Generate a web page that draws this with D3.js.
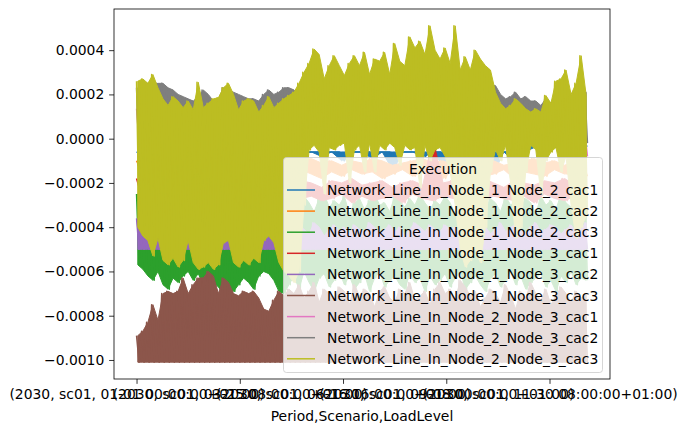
<!DOCTYPE html>
<html>
<head>
<meta charset="utf-8">
<script src="https://cdn.jsdelivr.net/npm/d3@7"></script>
<style>
  body { margin: 0; background: #fff; }
  svg text { font-family: "DejaVu Sans", sans-serif; }
</style>
</head>
<body>
<svg id="chart" width="686" height="432"></svg>
<script>
// values are in units of 1e-4, hourly index 0..8735 (8736 load levels)
const UNIT = 1e-4;
const lastHour = 8735;

const seriesNames = [
  "Network_Line_In_Node_1_Node_2_cac1", "Network_Line_In_Node_1_Node_2_cac2",
  "Network_Line_In_Node_1_Node_2_cac3", "Network_Line_In_Node_1_Node_3_cac1",
  "Network_Line_In_Node_1_Node_3_cac2", "Network_Line_In_Node_1_Node_3_cac3",
  "Network_Line_In_Node_2_Node_3_cac1", "Network_Line_In_Node_2_Node_3_cac2",
  "Network_Line_In_Node_2_Node_3_cac3"
];

const xTickHours = [0, 2000, 4000, 6000, 8000];
const xTickLabels = [
  "(2030, sc01, 01-01 00:00:00+01:00)", "(2030, sc01, 03-25 08:00:00+01:00)",
  "(2030, sc01, 06-16 16:00:00+01:00)", "(2030, sc01, 09-08 00:00:00+01:00)",
  "(2030, sc01, 11-30 08:00:00+01:00)"
];
const yTicks = [-0.0010, -0.0008, -0.0006, -0.0004, -0.0002, 0, 0.0002, 0.0004];

// per time bin: highest and lowest flow seen in the bin
const blueHi = [-0.6, -0.6, -0.6, -0.6, -0.6, -0.6, -0.6, -0.6, -0.6, -0.6, -0.6, -0.6, -0.6, -0.6, -0.6,
  -0.6, -0.6, -0.6, -0.6, -0.6, -0.6, -0.6, -0.6, -0.6, -0.6, -0.6, -0.6, -0.6, -0.6, -0.6,
  -0.6, -0.6, -0.6, -0.6, -0.6, -0.6, -0.6, -0.6, -0.6, -0.3, -0.25, -0.3, -0.2, -0.3, -0.25];
const blueLo = [-0.7, -0.9, -0.6, -0.8, -1.0, -0.6, -0.7, -0.9, -0.6, -0.8, -0.7, -1.0, -0.6, -0.8, -0.6,
  -0.9, -0.7, -0.6, -0.8, -0.6, -1.0, -0.6, -0.6, -0.9, -0.6, -1.4, -0.6, -0.6, -0.8, -0.6,
  -1.2, -0.6, -0.6, -0.9, -0.6, -1.5, -0.6, -1.0, -0.6, -0.4, -0.35, -0.4, -0.3, -0.4, -0.35];

const orangeHi = [-1.0, -1.1, -0.9, -1.2, -1.0, -1.1, -1.0, -0.9, -1.2, -1.1, -1.0, -1.2, -0.9, -1.1, -1.0,
  -1.2, -1.0, -0.9, -1.1, -1.0, -1.2, -1.0, -1.1, -0.9, -1.0, -1.2, -1.1, -1.0, -0.9, -1.1,
  -1.0, -1.2, -1.0, -1.1, -0.9, -1.0, -1.2, -1.1, -1.0, -0.9, -1.1, -1.0, -1.2, -1.0, -1.1];
const orangeLo = [-1.5, -1.7, -1.4, -1.6, -1.8, -1.5, -1.6, -1.4, -1.7, -1.5, -1.6, -1.8, -1.4, -1.6, -1.5,
  -1.7, -1.4, -1.6, -1.8, -1.5, -1.7, -1.4, -1.6, -1.5, -1.8, -1.6, -1.4, -1.7, -1.5, -1.6,
  -1.8, -1.4, -1.6, -1.5, -1.7, -1.6, -1.4, -1.8, -1.5, -1.6, -1.7, -1.4, -1.6, -1.5, -1.7];

const greenHi = [-2.5, -2.7, -3.0, -2.6, -3.2, -2.8, -3.4, -3.0, -2.7, -3.1, -2.5, -2.9, -3.3, -2.8, -3.0,
  -3.5, -2.9, -2.6, -3.1, -2.8, -3.0, -3.2, -2.7, -2.9, -3.3, -2.5, -2.6, -3.0, -2.8, -3.1,
  -2.4, -2.8, -3.0, -2.6, -2.9, -3.3, -2.7, -2.5, -3.1, -2.8, -3.0, -2.6, -3.4, -2.9, -2.7,
  -3.2, -2.8, -2.5, -3.0, -2.9, -3.3, -2.6, -2.8, -3.1, -2.7, -3.0, -2.5, -2.9, -3.2, -2.8,
  -3.0, -2.6, -2.9, -3.4, -2.7, -3.1, -2.8, -2.5, -3.0, -3.2, -2.7, -2.9, -3.3, -2.6, -3.0,
  -2.8, -3.1, -2.7, -2.9, -3.4, -2.6, -3.0, -2.8, -3.2, -2.5, -2.9, -3.1, -2.7, -3.0, -2.8];
const greenLo = [-5.7, -5.9, -6.2, -6.4, -6.0, -6.6, -6.8, -6.3, -6.5, -6.2, -6.0, -6.4, -6.1, -6.6, -6.9,
  -6.5, -6.7, -7.0, -6.8, -6.9, -6.6, -6.3, -6.5, -6.8, -6.2, -6.0, -6.1, -6.4, -6.9, -7.0,
  -6.6, -6.2, -6.8, -6.0, -6.5, -6.9, -6.3, -6.1, -6.7, -6.4, -6.0, -6.6, -6.2, -6.8, -6.5,
  -6.1, -6.9, -6.3, -6.0, -6.7, -6.4, -6.2, -6.6, -6.8, -6.1, -6.5, -6.3, -6.9, -6.2, -6.6,
  -6.4, -6.1, -6.7, -6.3, -6.0, -6.8, -6.5, -6.2, -6.6, -6.9, -6.3, -6.1, -6.7, -6.4, -6.0,
  -6.6, -6.2, -6.8, -6.5, -6.3, -6.1, -6.7, -6.4, -6.9, -6.2, -6.5, -6.0, -6.6, -6.3, -6.4];

const redHi = [-1.8, -2.0, -1.9, -2.1, -1.8, -2.0, -1.9, -2.2, -2.0, -1.8, -2.1, -1.9, -2.0, -1.8, -2.0,
  -2.1, -1.9, -2.0, -2.2, -1.9, -2.0, -1.8, -2.1, -2.0, -1.9, -2.2, -2.0, -1.9, -2.1, 0.0,
  -2.0, -1.9, -2.1, -2.0, -1.8, -2.0, -2.2, -1.9, -2.0, -2.1, -1.9, -2.0, -1.8, -2.1, -2.0];
const redLo = [-2.6, -2.8, -2.5, -2.7, -2.9, -2.6, -2.8, -2.7, -2.5, -2.9, -2.6, -2.7, -2.8, -2.6, -2.5,
  -2.9, -2.7, -2.6, -2.8, -2.7, -2.5, -2.9, -2.6, -2.8, -2.7, -2.6, -2.9, -2.5, -2.7, -2.8,
  -2.6, -2.7, -2.9, -2.5, -2.8, -2.6, -2.7, -2.8, -2.6, -2.9, -2.5, -2.7, -2.8, -2.6, -2.7];

const purpleHi = [-3.6, -3.5, -3.8, -4.0, -3.7, -3.9, -4.2, -4.1, -3.8, -4.3, -4.0, -4.4, -4.1, -4.2, -3.9,
  -4.3, -4.0, -3.9, -4.2, -4.4, -4.1, -4.3, -4.0, -4.2, -4.1, -3.9, -3.8, -4.0, -4.3, -4.2,
  -4.0, -4.2, -3.9, -4.1, -4.3, -3.8, -4.0, -4.4, -4.1, -3.9, -4.2, -4.0, -4.3, -3.9, -4.1,
  -4.2, -3.8, -4.0, -4.3, -4.1, -3.9, -4.2, -4.0, -4.4, -4.1, -3.8, -4.0, -4.2, -3.9, -4.1,
  -4.2, -3.9, -4.1, -4.0, -4.3, -3.8, -4.1, -4.2, -3.9, -4.0, -4.3, -4.1, -3.8, -4.2, -4.0,
  -3.9, -4.1, -4.3, -4.0, -3.8, -4.2, -4.1, -3.9, -4.0, -4.3, -4.1, -3.9, -4.2, -4.0, -3.8];
const purpleLo = [-5.0, -5.0, -5.0, -5.0, -5.0, -5.0, -5.0, -5.0, -5.0, -5.0, -5.0, -5.0, -5.0, -5.0, -5.0,
  -5.0, -5.0, -5.0, -5.0, -5.0, -5.0, -5.0, -5.0, -5.0, -5.0, -5.0, -5.0, -5.0, -5.0, -5.0,
  -5.0, -5.0, -5.0, -5.0, -5.0, -5.0, -5.0, -5.0, -5.0, -5.0, -5.0, -5.0, -5.0, -5.0, -5.0,
  -5.0, -5.0, -5.0, -5.0, -5.0, -5.0, -5.0, -5.0, -5.0, -5.0, -5.0, -5.0, -5.0, -5.0, -5.0,
  -5.0, -5.0, -5.0, -5.0, -5.0, -5.0, -5.0, -5.0, -5.0, -5.0, -5.0, -5.0, -5.0, -5.0, -5.0,
  -5.0, -5.0, -5.0, -5.0, -5.0, -5.0, -5.0, -5.0, -5.0, -5.0, -5.0, -5.0, -5.0, -5.0, -5.0];

const brownHi = [-8.9, -8.7, -8.3, -7.5, -8.2, -7.0, -6.9, -7.0, -6.9, -6.3, -7.0, -6.6, -6.3, -6.3, -6.0,
  -6.2, -7.0, -6.3, -6.5, -7.0, -7.1, -6.9, -7.0, -6.9, -7.2, -7.7, -7.8, -7.3, -6.9, -7.1,
  -6.8, -7.0, -6.6, -7.2, -6.9, -6.5, -7.4, -6.8, -7.0, -7.3, -6.7, -6.9, -7.5, -6.6, -7.1,
  -6.8, -7.0, -7.6, -6.9, -6.7, -7.2, -7.4, -6.8, -7.0, -6.5, -7.3, -7.1, -6.9, -7.5, -6.8,
  -6.5, -7.0, -6.8, -7.3, -6.4, -6.7, -7.1, -6.9, -7.6, -7.2, -6.8, -7.0, -7.4, -6.6, -7.1,
  -7.7, -6.9, -7.2, -6.5, -7.0, -7.3, -6.8, -7.5, -7.1, -6.7, -7.0, -7.4, -6.9, -7.2, -7.0];
const brownLo = [-10.1, -10.1, -10.1, -10.1, -10.1, -10.1, -10.1, -10.1, -10.1, -10.1, -10.1, -10.1, -10.1, -10.1, -10.1,
  -10.1, -10.1, -10.1, -10.1, -10.1, -10.1, -10.1, -10.1, -10.1, -10.1, -10.1, -10.1, -10.1, -10.1, -10.1,
  -10.1, -10.1, -10.1, -10.1, -10.1, -10.1, -10.1, -10.1, -10.1, -10.1, -10.1, -10.1, -10.1, -10.1, -10.1,
  -10.1, -10.1, -10.1, -10.1, -10.1, -10.1, -10.1, -10.1, -10.1, -10.1, -10.1, -10.1, -10.1, -10.1, -10.1,
  -10.1, -10.1, -10.1, -10.1, -10.1, -10.1, -10.1, -10.1, -10.1, -10.1, -10.1, -10.1, -10.1, -10.1, -10.1,
  -10.1, -10.1, -10.1, -10.1, -10.1, -10.1, -10.1, -10.1, -10.1, -10.1, -10.1, -10.1, -10.1, -10.1, -10.1];

const pinkHi = [1.35, 1.3, 1.35, 1.35, 1.3, 1.35, 1.35, 1.35, 1.3, 1.35, 1.35, 1.3, 1.35, 1.35, 1.35,
  1.3, 1.35, 1.35, 1.3, 1.35, 1.35, 1.35, 1.3, 1.35, 1.35, 1.35, 1.3, 1.35, 1.35, 1.35,
  1.3, 1.35, 1.35, 1.35, 1.3, 1.35, 1.35, 1.3, 1.35, 1.35, 1.35, 1.3, 1.35, 1.35, 1.2];
const pinkLo = [-1.5, -1.2, -1.8, -1.0, -1.4, -2.0, -1.3, -1.6, -1.1, -1.5, -1.9, -1.2, -1.4, -1.7, -1.0,
  0.4, 0.5, 0.3, 0.5, 0.4, 0.6, 0.4, 0.5, 0.3, 0.5, 0.4, 0.5, 0.6, 0.4, 0.5,
  0.3, 0.5, 0.4, 0.5, 0.3, 0.4, 0.5, 0.4, 0.3, 0.5, 0.4, 0.5, 0.3, 0.4, -0.8];

const grayHi = [2.3, 2.4, 2.5, 2.4, 2.5, 2.5, 2.3, 2.2, 2.0, 1.9, 1.8, 1.7, 1.9, 2.2, 2.0,
  1.7, 1.8, 2.3, 2.2, 2.1, 2.0, 1.9, 1.8, 1.8, 1.7, 2.0, 2.2, 2.0, 2.1, 2.3,
  2.3, 2.2, 2.0, 1.8, 1.5, 1.5, 1.4, 1.3, 1.4, 1.5, 1.5, 1.3, 1.5, 1.4, 1.6,
  1.5, 1.4, 1.6, 1.5, 1.4, 1.5, 1.6, 1.6, 1.8, 1.7, 1.6, 1.8, 1.9, 1.8, 1.9,
  1.8, 1.6, 1.5, 1.7, 1.8, 1.6, 1.5, 1.7, 1.6, 1.8, 2.2, 2.4, 2.0, 1.8, 1.9,
  2.1, 1.8, 1.9, 1.7, 1.7, 1.5, 1.8, 1.6, 1.9, 1.7, 1.9, 1.8, 2.0, 1.9, 2.1];
const grayLo = [-1.2, -1.5, -1.0, -0.8, -1.6, -2.0, -1.3, -1.7, -1.1, -1.4, -1.0, -1.5, -2.4, -1.8, -1.2,
  -0.9, -1.6, -1.3, -1.0, -1.5, -1.8, -1.2, -1.0, -1.4, -1.7, -1.1, -0.9, -1.3, -1.6, -1.2,
  -1.0, -0.8, -0.5, 0.3, 0.5, 0.4, 0.6, 0.3, 0.5, 0.4, 0.6, 0.5, 0.3, 0.5, 0.6,
  0.4, 0.5, 0.3, 0.6, 0.5, 0.4, 0.6, 0.3, 0.5, 0.4, 0.6, 0.3, 0.5, 0.4, 0.5,
  0.6, 0.4, 0.3, -0.5, -1.2, -1.5, -1.0, -1.3, -0.8, -0.5, 0.2, 0.4, 0.3, 0.5, 0.2,
  -0.6, -0.4, 0.3, 0.5, 0.4, 0.2, 0.3, 0.5, 0.4, 0.3, 0.5, -0.3, -0.8, -0.5, -0.2];

const oliveHi = [2.6, 2.7, 2.5, 2.9, 2.3, 1.8, 1.5, 1.9, 1.7, 1.4, 1.7, 1.3, 2.55, 1.4, 1.6,
  1.8, 1.85, 2.3, 2.5, 2.0, 1.3, 1.7, 1.8, 1.7, 1.2, 1.5, 1.9, 1.4, 1.6, 1.8,
  1.95, 2.1, 2.5, 3.0, 3.4, 4.05, 3.8, 2.7, 3.3, 3.75, 3.3, 2.85, 3.4, 3.75, 3.3,
  3.9, 2.9, 3.6, 3.5, 3.9, 2.9, 4.3, 3.5, 3.3, 4.6, 4.1, 4.4, 3.8, 5.1, 4.0,
  3.6, 4.1, 3.4, 5.1, 3.1, 3.7, 3.1, 4.0, 3.6, 3.3, 3.1, 2.1, 1.6, 1.35, 1.5,
  1.8, 1.6, 1.35, 1.2, 1.35, 1.2, 1.95, 1.6, 2.6, 2.7, 3.1, 2.0, 2.5, 3.75, 1.95];
const oliveLo = [-4.0, -4.4, -4.6, -5.3, -4.5, -5.5, -5.7, -5.4, -5.8, -5.5, -4.6, -5.6, -5.9, -5.8, -5.6,
  -5.9, -5.7, -4.7, -4.6, -5.6, -5.8, -5.5, -5.7, -5.4, -5.6, -4.6, -4.4, -4.7, -5.6, -6.0,
  -6.2, -6.5, -6.0, -3.0, -0.5, -0.3, -0.6, -2.5, -0.4, -0.5, -0.3, -0.2, -2.0, -0.5, -0.3,
  -1.5, -0.2, -1.5, -0.3, -0.5, -0.2, -0.4, -1.2, -0.3, -0.5, -0.4, -2.2, -0.3, -1.0, -0.5,
  -0.4, -0.8, -1.5, -3.0, -5.0, -5.8, -5.5, -5.0, -5.6, -4.0, -1.5, -0.5, -1.0, -0.3, -2.0,
  -4.5, -4.0, -1.5, -0.3, -0.5, -2.5, -1.0, -0.6, -0.4, -1.5, -0.8, -3.0, -4.5, -4.0, -3.5];

const colors = ["#1f77b4", "#ff7f0e", "#2ca02c", "#d62728", "#9467bd", "#8c564b", "#e377c2", "#7f7f7f", "#bcbd22"];
const his = [blueHi, orangeHi, greenHi, redHi, purpleHi, brownHi, pinkHi, grayHi, oliveHi];
const los = [blueLo, orangeLo, greenLo, redLo, purpleLo, brownLo, pinkLo, grayLo, oliveLo];

// each series: the hourly trace swings between the bin's high and low
const series = seriesNames.map((name, s) => {
  const hi = his[s], lo = los[s];
  const steps = 2 * hi.length - 1;
  const pts = [], band = [];
  hi.forEach((h, i) => {
    pts.push([2 * i / steps * lastHour, h * UNIT]);
    pts.push([(2 * i + 1) / steps * lastHour, lo[i] * UNIT]);
    band.push({ t: (2 * i + 0.5) / steps * lastHour, hi: h * UNIT, lo: lo[i] * UNIT });
  });
  return { name: name, color: colors[s], points: pts, band: band };
});

///////////////////////////////////////////////////////////////////////////
//////////////////////////// Scales and frame /////////////////////////////
///////////////////////////////////////////////////////////////////////////

const plot = { left: 114, right: 610, top: 9, bottom: 379 };
const fs = 13.9;

const xPad = lastHour * 0.05;
const x = d3.scaleLinear().domain([-xPad, lastHour + xPad]).range([plot.left, plot.right]);

const allVals = series.flatMap(d => d.points.map(p => p[1]));
const yMin = d3.min(allVals), yMax = d3.max(allVals);
const yPad = (yMax - yMin) * 0.05;
const y = d3.scaleLinear().domain([yMin - yPad, yMax + yPad]).range([plot.bottom, plot.top]);

const svg = d3.select("#chart");

svg.append("defs").append("clipPath").attr("id", "clip")
  .append("rect")
  .attr("x", plot.left).attr("y", plot.top)
  .attr("width", plot.right - plot.left).attr("height", plot.bottom - plot.top);

const line = d3.line().x(d => x(d[0])).y(d => y(d[1]));
const area = d3.area().x(d => x(d.t)).y0(d => y(d.lo)).y1(d => y(d.hi));

// hourly data is far denser than the pixels: the trace fills its band,
// the spiky edge comes from the raw swings on top
const traces = svg.append("g")
  .attr("clip-path", "url(#clip)")
  .selectAll("g")
  .data(series)
  .enter().append("g");

traces.append("path")
  .attr("d", d => area(d.band))
  .attr("fill", d => d.color)
  .attr("stroke", d => d.color)
  .attr("stroke-width", 1)
  .attr("stroke-linejoin", "round");

traces.append("path")
  .attr("d", d => line(d.points))
  .attr("fill", "none")
  .attr("stroke", d => d.color)
  .attr("stroke-width", 1.5)
  .attr("stroke-linejoin", "round");

// axes
const tickLen = 4.86;

const yAxis = svg.append("g")
  .attr("transform", "translate(" + plot.left + ",0)")
  .call(d3.axisLeft(y).tickValues(yTicks).tickSize(tickLen).tickPadding(tickLen)
    .tickFormat(d3.format(".4f")));

const xAxis = svg.append("g")
  .attr("transform", "translate(0," + plot.bottom + ")")
  .call(d3.axisBottom(x).tickValues(xTickHours).tickSize(tickLen).tickPadding(tickLen)
    .tickFormat((d, i) => xTickLabels[i]));

[yAxis, xAxis].forEach(g => {
  g.select(".domain").remove();
  g.selectAll(".tick line").attr("stroke", "#000").attr("stroke-width", 0.8);
  g.selectAll(".tick text")
    .attr("fill", "#000")
    .style("font-family", "DejaVu Sans")
    .style("font-size", fs + "px");
});

svg.append("rect")
  .attr("x", plot.left).attr("y", plot.top)
  .attr("width", plot.right - plot.left).attr("height", plot.bottom - plot.top)
  .attr("fill", "none")
  .attr("stroke", "#000")
  .attr("stroke-width", 0.8);

svg.append("text")
  .attr("x", (plot.left + plot.right) / 2)
  .attr("y", 421)
  .attr("text-anchor", "middle")
  .style("font-size", fs + "px")
  .text("Period,Scenario,LoadLevel");

///////////////////////////////////////////////////////////////////////////
//////////////////////////////// Legend ///////////////////////////////////
///////////////////////////////////////////////////////////////////////////

const leg = svg.append("g");
leg.append("rect")
  .attr("x", 283.5).attr("y", 157.5)
  .attr("width", 319).attr("height", 215)
  .attr("rx", 3)
  .attr("fill", "#fff").attr("fill-opacity", 0.8)
  .attr("stroke", "#ccc").attr("stroke-opacity", 0.8);

leg.append("text")
  .attr("x", 443).attr("y", 169)
  .attr("text-anchor", "middle")
  .attr("dominant-baseline", "central")
  .style("font-size", fs + "px")
  .text("Execution");

const rows = leg.selectAll(".row")
  .data(series)
  .enter().append("g")
  .attr("class", "row")
  .attr("transform", (d, i) => "translate(0," + (190 + i * 21.1) + ")");

rows.append("line")
  .attr("x1", 287).attr("x2", 315)
  .attr("stroke", d => d.color)
  .attr("stroke-width", 1.5);

rows.append("text")
  .attr("x", 327)
  .attr("dominant-baseline", "central")
  .style("font-size", fs + "px")
  .text(d => d.name);
</script>
</body>
</html>
